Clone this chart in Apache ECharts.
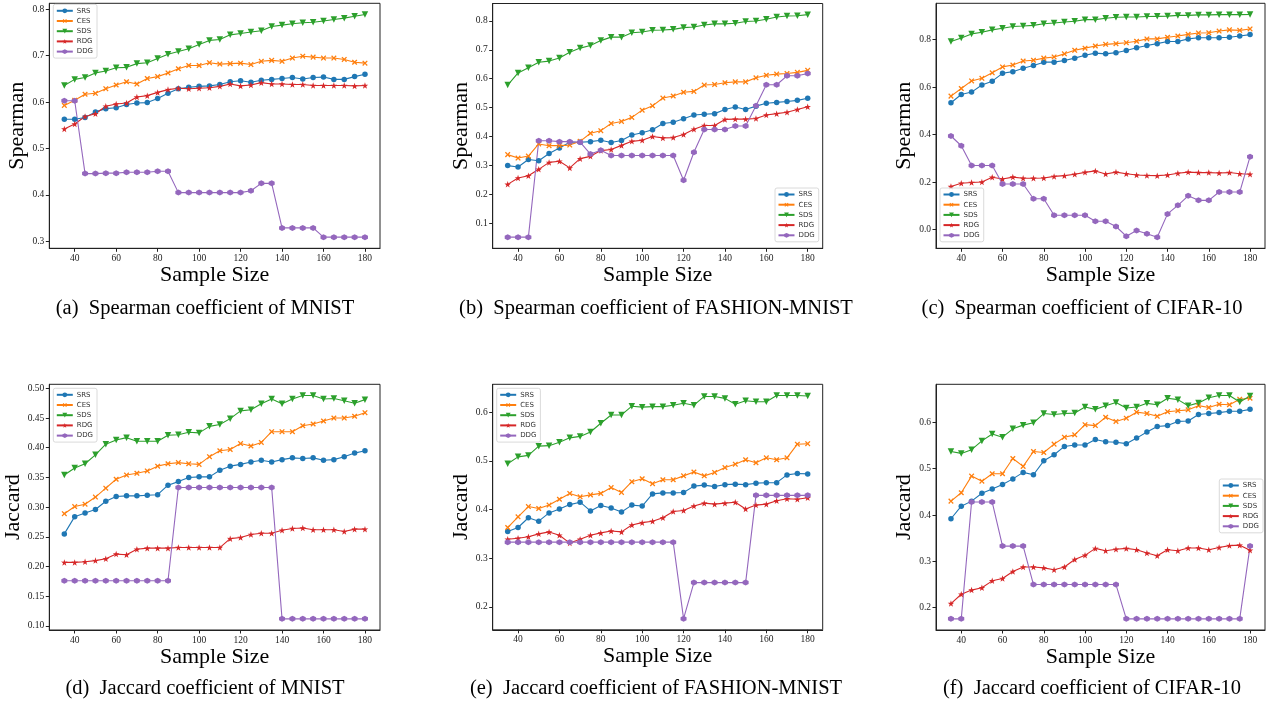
<!DOCTYPE html>
<html>
<head>
<meta charset="utf-8">
<script src="https://cdn.jsdelivr.net/npm/echarts@6/dist/echarts.min.js"></script>
<style>html,body{margin:0;padding:0;background:#fff}#c{width:1269px;height:705px}</style>
</head>
<body>
<div id="c"></div>
<script>
const sampleSizes = [35,40,45,50,55,60,65,70,75,80,85,90,95,100,105,110,115,120,125,130,135,140,145,150,155,160,165,170,175,180];
const xTicks = [40,60,80,100,120,140,160,180];
const seriesNames = ['SRS','CES','SDS','RDG','DDG'];

// (a) Spearman MNIST
const a_SRS = [0.563,0.563,0.567,0.579,0.586,0.588,0.595,0.598,0.599,0.608,0.619,0.629,0.632,0.634,0.635,0.638,0.644,0.646,0.643,0.647,0.649,0.651,0.653,0.650,0.653,0.654,0.649,0.649,0.655,0.660];
const a_CES = [0.593,0.604,0.617,0.619,0.629,0.637,0.644,0.639,0.651,0.655,0.663,0.672,0.679,0.679,0.685,0.682,0.683,0.684,0.681,0.688,0.690,0.688,0.695,0.699,0.697,0.695,0.695,0.692,0.686,0.684];
const a_SDS = [0.636,0.649,0.653,0.663,0.667,0.674,0.675,0.683,0.685,0.694,0.703,0.709,0.715,0.724,0.733,0.735,0.745,0.748,0.751,0.754,0.763,0.766,0.769,0.771,0.772,0.775,0.778,0.781,0.785,0.789];
const a_RDG = [0.542,0.553,0.569,0.575,0.591,0.596,0.598,0.611,0.614,0.621,0.627,0.630,0.629,0.630,0.631,0.634,0.639,0.635,0.637,0.642,0.639,0.639,0.638,0.638,0.636,0.636,0.636,0.636,0.635,0.636];
const a_DDG = [0.603,0.603,0.446,0.446,0.447,0.447,0.449,0.449,0.449,0.451,0.451,0.405,0.405,0.405,0.405,0.405,0.405,0.405,0.409,0.425,0.425,0.329,0.329,0.329,0.329,0.309,0.309,0.309,0.309,0.309];
const a_yTicks = [0.3,0.4,0.5,0.6,0.7,0.8];

// (b) Spearman FASHION-MNIST
const b_SRS = [0.299,0.294,0.320,0.316,0.341,0.360,0.380,0.380,0.382,0.387,0.379,0.386,0.405,0.413,0.423,0.445,0.449,0.461,0.474,0.477,0.479,0.493,0.502,0.493,0.505,0.515,0.518,0.521,0.525,0.532];
const b_CES = [0.337,0.325,0.332,0.374,0.368,0.368,0.370,0.383,0.411,0.420,0.445,0.452,0.466,0.491,0.506,0.533,0.540,0.553,0.556,0.578,0.580,0.586,0.589,0.589,0.603,0.612,0.616,0.618,0.622,0.629];
const b_SDS = [0.578,0.620,0.638,0.657,0.661,0.672,0.692,0.706,0.715,0.732,0.744,0.744,0.759,0.762,0.768,0.769,0.771,0.777,0.779,0.786,0.790,0.790,0.792,0.798,0.800,0.806,0.814,0.817,0.818,0.822];
const b_RDG = [0.234,0.256,0.264,0.286,0.310,0.314,0.291,0.323,0.331,0.351,0.355,0.369,0.383,0.387,0.400,0.395,0.396,0.407,0.425,0.438,0.438,0.459,0.460,0.460,0.462,0.474,0.479,0.484,0.493,0.503];
const b_DDG = [0.051,0.051,0.051,0.385,0.385,0.382,0.382,0.380,0.339,0.352,0.334,0.334,0.334,0.334,0.334,0.334,0.334,0.248,0.345,0.424,0.424,0.424,0.436,0.436,0.506,0.579,0.579,0.610,0.610,0.618];
const b_yTicks = [0.1,0.2,0.3,0.4,0.5,0.6,0.7,0.8];

// (c) Spearman CIFAR-10
const c_SRS = [0.534,0.569,0.579,0.609,0.625,0.658,0.665,0.679,0.691,0.705,0.705,0.712,0.722,0.734,0.743,0.740,0.745,0.754,0.766,0.775,0.783,0.792,0.792,0.803,0.808,0.808,0.808,0.810,0.815,0.821];
const c_CES = [0.562,0.594,0.626,0.637,0.660,0.685,0.693,0.710,0.713,0.722,0.727,0.740,0.755,0.764,0.773,0.780,0.783,0.787,0.793,0.803,0.803,0.810,0.815,0.822,0.828,0.829,0.836,0.841,0.839,0.845];
const c_SDS = [0.792,0.807,0.824,0.831,0.841,0.848,0.855,0.857,0.860,0.867,0.870,0.874,0.877,0.884,0.884,0.890,0.894,0.895,0.895,0.897,0.898,0.899,0.902,0.902,0.904,0.904,0.905,0.905,0.905,0.906];
const c_RDG = [0.181,0.195,0.198,0.200,0.220,0.213,0.221,0.216,0.216,0.217,0.224,0.227,0.233,0.241,0.247,0.234,0.242,0.235,0.230,0.228,0.227,0.230,0.237,0.242,0.240,0.240,0.238,0.240,0.235,0.233];
const c_DDG = [0.394,0.353,0.270,0.270,0.270,0.192,0.192,0.192,0.130,0.130,0.060,0.060,0.060,0.060,0.035,0.035,0.013,-0.028,-0.004,-0.018,-0.032,0.066,0.102,0.142,0.123,0.123,0.158,0.158,0.158,0.307];
const c_yTicks = [0.0,0.2,0.4,0.6,0.8];

// (d) Jaccard MNIST
const d_SRS = [0.255,0.284,0.290,0.296,0.310,0.318,0.319,0.319,0.320,0.321,0.337,0.343,0.350,0.351,0.351,0.362,0.369,0.372,0.376,0.379,0.376,0.380,0.383,0.382,0.383,0.379,0.380,0.385,0.391,0.395];
const d_CES = [0.289,0.301,0.305,0.317,0.332,0.347,0.354,0.357,0.361,0.369,0.373,0.375,0.373,0.372,0.385,0.395,0.397,0.407,0.403,0.409,0.427,0.427,0.427,0.437,0.440,0.445,0.450,0.450,0.453,0.459];
const d_SDS = [0.354,0.366,0.373,0.388,0.406,0.413,0.417,0.411,0.411,0.411,0.421,0.422,0.426,0.425,0.436,0.439,0.449,0.462,0.464,0.474,0.482,0.474,0.482,0.488,0.488,0.482,0.483,0.479,0.475,0.481];
const d_RDG = [0.207,0.207,0.208,0.210,0.213,0.221,0.220,0.229,0.231,0.231,0.231,0.232,0.232,0.232,0.232,0.232,0.247,0.249,0.254,0.256,0.256,0.261,0.264,0.265,0.262,0.262,0.262,0.259,0.263,0.263];
const d_DDG = [0.176,0.176,0.176,0.176,0.176,0.176,0.176,0.176,0.176,0.176,0.176,0.333,0.333,0.333,0.333,0.333,0.333,0.333,0.333,0.333,0.333,0.112,0.112,0.112,0.112,0.112,0.112,0.112,0.112,0.112];
const d_yTicks = [0.10,0.15,0.20,0.25,0.30,0.35,0.40,0.45,0.50];

// (e) Jaccard FASHION-MNIST
const e_SRS = [0.355,0.363,0.383,0.376,0.393,0.401,0.410,0.415,0.397,0.408,0.403,0.395,0.409,0.407,0.432,0.434,0.434,0.435,0.448,0.450,0.447,0.451,0.452,0.451,0.454,0.455,0.455,0.471,0.474,0.473];
const e_CES = [0.363,0.385,0.406,0.402,0.409,0.421,0.433,0.426,0.430,0.433,0.445,0.435,0.457,0.463,0.453,0.461,0.461,0.469,0.477,0.469,0.476,0.486,0.493,0.502,0.496,0.506,0.502,0.506,0.534,0.535];
const e_SDS = [0.494,0.508,0.511,0.530,0.531,0.538,0.547,0.550,0.559,0.577,0.594,0.594,0.612,0.610,0.611,0.611,0.614,0.618,0.614,0.632,0.632,0.628,0.616,0.623,0.621,0.621,0.634,0.634,0.634,0.633];
const e_RDG = [0.339,0.341,0.344,0.350,0.354,0.347,0.331,0.339,0.347,0.352,0.356,0.354,0.368,0.373,0.376,0.383,0.396,0.398,0.407,0.413,0.411,0.413,0.415,0.401,0.409,0.411,0.418,0.422,0.421,0.424];
const e_DDG = [0.333,0.333,0.333,0.333,0.333,0.333,0.333,0.333,0.333,0.333,0.333,0.333,0.333,0.333,0.333,0.333,0.333,0.176,0.250,0.250,0.250,0.250,0.250,0.250,0.429,0.429,0.429,0.429,0.429,0.429];
const e_yTicks = [0.2,0.3,0.4,0.5,0.6];

// (f) Jaccard CIFAR-10
const f_SRS = [0.392,0.419,0.430,0.447,0.456,0.466,0.478,0.492,0.487,0.517,0.530,0.548,0.551,0.551,0.563,0.558,0.557,0.554,0.566,0.579,0.591,0.593,0.602,0.603,0.617,0.619,0.621,0.624,0.624,0.628];
const f_CES = [0.430,0.448,0.484,0.473,0.489,0.489,0.522,0.505,0.537,0.535,0.553,0.568,0.573,0.595,0.593,0.611,0.602,0.609,0.622,0.619,0.613,0.623,0.625,0.627,0.636,0.632,0.639,0.638,0.650,0.652];
const f_SDS = [0.537,0.533,0.541,0.560,0.575,0.568,0.586,0.594,0.599,0.619,0.617,0.619,0.620,0.633,0.628,0.636,0.643,0.631,0.633,0.641,0.638,0.652,0.649,0.636,0.642,0.653,0.658,0.658,0.644,0.657];
const f_RDG = [0.209,0.229,0.238,0.243,0.258,0.263,0.278,0.288,0.288,0.286,0.282,0.288,0.304,0.313,0.328,0.323,0.326,0.328,0.325,0.318,0.312,0.325,0.323,0.329,0.329,0.325,0.330,0.334,0.335,0.324];
const f_DDG = [0.176,0.176,0.428,0.428,0.428,0.333,0.333,0.333,0.250,0.250,0.250,0.250,0.250,0.250,0.250,0.250,0.250,0.176,0.176,0.176,0.176,0.176,0.176,0.176,0.176,0.176,0.176,0.176,0.176,0.333];
const f_yTicks = [0.2,0.3,0.4,0.5,0.6];

const captions = [
  '(a)  Spearman coefficient of MNIST',
  '(b)  Spearman coefficient of FASHION-MNIST',
  '(c)  Spearman coefficient of CIFAR-10',
  '(d)  Jaccard coefficient of MNIST',
  '(e)  Jaccard coefficient of FASHION-MNIST',
  '(f)  Jaccard coefficient of CIFAR-10'
];
const yNames = ['Spearman','Spearman','Spearman','Jaccard','Jaccard','Jaccard'];

const panels = [
  {data:[a_SRS,a_CES,a_SDS,a_RDG,a_DDG], ticks:a_yTicks, dec:1},
  {data:[b_SRS,b_CES,b_SDS,b_RDG,b_DDG], ticks:b_yTicks, dec:1},
  {data:[c_SRS,c_CES,c_SDS,c_RDG,c_DDG], ticks:c_yTicks, dec:1},
  {data:[d_SRS,d_CES,d_SDS,d_RDG,d_DDG], ticks:d_yTicks, dec:2},
  {data:[e_SRS,e_CES,e_SDS,e_RDG,e_DDG], ticks:e_yTicks, dec:1},
  {data:[f_SRS,f_CES,f_SDS,f_RDG,f_DDG], ticks:f_yTicks, dec:1}
];

// layout (pixels)
const gridBoxes = [
  {left:49.3, top:3.3, width:330.7, height:245},
  {left:492.7, top:3.5, width:330, height:244.8},
  {left:936, top:3.3, width:329, height:245},
  {left:49.3, top:384.3, width:330.7, height:245.7},
  {left:492.7, top:384.3, width:330, height:245.5},
  {left:936, top:384.3, width:329, height:245.7}
];
const legendPos = [
  {left:53.3, top:4.3},
  {left:775, top:188},
  {left:940, top:188},
  {left:53.3, top:388.3},
  {left:496.7, top:388.3},
  {left:1219.3, top:479}
];
const yNameGaps = [21,20,20,25,20,20];
const captionPos = [[205,309],[656,309],[1082,309],[205,689],[656,689],[1092,689]];

const colors = ['#1f77b4','#ff7f0e','#2ca02c','#d62728','#9467bd'];
const symbols = [
  {s:'circle', size:5.5, rot:0},
  {s:'path://M4,0L6,0L6,4L10,4L10,6L6,6L6,10L4,10L4,6L0,6L0,4L4,4Z', size:6.5, rot:45},
  {s:'path://M0,0L10,0L5,8.7Z', size:6.5, rot:0},
  {s:'path://M50,0L61.8,35.3L97.6,34.5L69,56.7L79.4,90.9L50,70L20.6,90.9L31,56.7L2.4,34.5L38.2,35.3Z', size:6.5, rot:0},
  {s:'path://M5,0L9.33,2.5L9.33,7.5L5,10L0.67,7.5L0.67,2.5Z', size:6, rot:0}
];

const serif = '"Liberation Serif","Times New Roman",serif';
const xMin = sampleSizes[0] - 0.05*(sampleSizes[sampleSizes.length-1]-sampleSizes[0]);
const xMax = sampleSizes[sampleSizes.length-1] + 0.05*(sampleSizes[sampleSizes.length-1]-sampleSizes[0]);

const grid=[], xAxis=[], yAxis=[], series=[], legend=[], graphic=[];
panels.forEach((p,i)=>{
  const g = gridBoxes[i];
  grid.push({left:g.left, top:g.top, width:g.width, height:g.height, show:true, borderColor:'#222', borderWidth:1, backgroundColor:'transparent', containLabel:false});
  let lo=Infinity, hi=-Infinity;
  p.data.forEach(arr=>arr.forEach(v=>{lo=Math.min(lo,v);hi=Math.max(hi,v);}));
  const pad=(hi-lo)*0.05;
  xAxis.push({
    type:'value', gridIndex:i, min:xMin, max:xMax,
    name:'Sample Size', nameLocation:'middle', nameGap:15,
    nameTextStyle:{fontFamily:serif, fontSize:22, color:'#000'},
    axisLine:{show:true, onZero:false, lineStyle:{color:'#222', width:1}},
    axisTick:{show:true, length:3.5, lineStyle:{color:'#222'}, customValues:xTicks},
    axisLabel:{fontFamily:serif, fontSize:9.5, color:'#222', margin:5, customValues:xTicks, formatter:v=>String(Math.round(v))},
    splitLine:{show:false}
  });
  yAxis.push({
    type:'value', gridIndex:i, min:lo-pad, max:hi+pad,
    name:yNames[i], nameLocation:'middle', nameGap:yNameGaps[i],
    nameTextStyle:{fontFamily:serif, fontSize:22, color:'#000'},
    axisLine:{show:true, onZero:false, lineStyle:{color:'#222', width:1}},
    axisTick:{show:true, length:3.5, lineStyle:{color:'#222'}, customValues:p.ticks},
    axisLabel:{fontFamily:serif, fontSize:9.5, color:'#222', margin:5, customValues:p.ticks, formatter:v=>Number(v).toFixed(p.dec)},
    splitLine:{show:false}
  });
  p.data.forEach((arr,k)=>{
    series.push({
      type:'line', name:seriesNames[k], xAxisIndex:i, yAxisIndex:i,
      data:sampleSizes.map((x,j)=>[x,arr[j]]),
      symbol:symbols[k].s, symbolSize:symbols[k].size, symbolRotate:symbols[k].rot,
      showAllSymbol:true,
      lineStyle:{color:colors[k], width:1.1},
      itemStyle:{color:colors[k], borderColor:colors[k], borderWidth:0},
      emphasis:{disabled:true},
      animation:false
    });
  });
  legend.push({
    orient:'vertical', left:legendPos[i].left, top:legendPos[i].top,
    data:seriesNames,
    itemWidth:16, itemHeight:6, itemGap:3.2,
    padding:[3,4,3,2.5],
    borderColor:'#d0d0d0', borderWidth:0.8, borderRadius:2,
    backgroundColor:'rgba(255,255,255,0.8)',
    textStyle:{fontFamily:'"DejaVu Sans",sans-serif', fontSize:7, color:'#333', padding:[0,0,0,-1]},
    selectedMode:false
  });
  graphic.push({
    type:'text', x:captionPos[i][0], y:captionPos[i][1],
    style:{text:captions[i], font:'20.5px '+serif, fill:'#000', textAlign:'center', textVerticalAlign:'middle'}
  });
});

const chart = echarts.init(document.getElementById('c'), null, {renderer:'canvas'});
chart.setOption({animation:false, backgroundColor:'#fff', grid, xAxis, yAxis, series, legend, graphic});
</script>
</body>
</html>
